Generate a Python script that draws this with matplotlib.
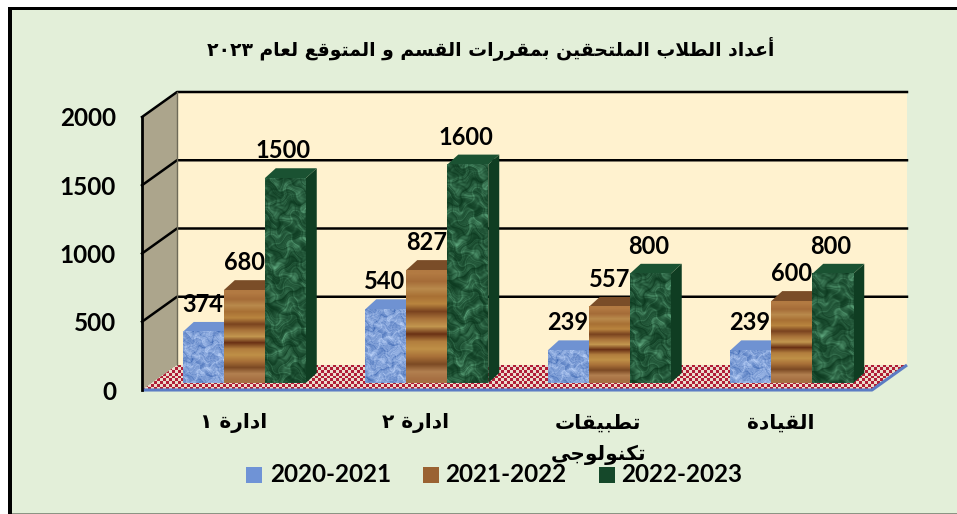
import numpy as np
import matplotlib
matplotlib.use("Agg")
import matplotlib.pyplot as plt
from matplotlib.patches import Rectangle, Polygon

## data
categories = ["ادارة ١", "ادارة ٢", "تطبيقات\nتكنولوجي", "القيادة"]
seasons = ["2020-2021", "2021-2022", "2022-2023"]
v2021 = [374, 540, 239, 239]
v2122 = [680, 827, 557, 600]
v2223 = [1500, 1600, 800, 800]
yticks = [0, 500, 1000, 1500, 2000]
title = "أعداد الطلاب الملتحقين بمقررات القسم و المتوقع لعام ٢٠٢٣"

W, H = 957, 514
BG = "#e3efd9"

## arabic shaping, matplotlib does not join letters itself
RIGHT = {"ا": (0xFE8D, 0xFE8E), "أ": (0xFE83, 0xFE84), "د": (0xFEA9, 0xFEAA),
         "ر": (0xFEAD, 0xFEAE), "و": (0xFEED, 0xFEEE), "ة": (0xFE93, 0xFE94)}
DUAL = {"ب": 0xFE8F, "ت": 0xFE95, "ج": 0xFE9D, "ح": 0xFEA1, "س": 0xFEB1, "ط": 0xFEC1,
        "ع": 0xFEC9, "ف": 0xFED1, "ق": 0xFED5, "ك": 0xFED9, "ل": 0xFEDD, "م": 0xFEE1,
        "ن": 0xFEE5, "ي": 0xFEF1}

def shape_word(w):
    if w[0] in "٠١٢٣٤٥٦٧٨٩":
        return w
    out = []
    i = 0
    prev_joins = False
    while i < len(w):
        c = w[i]
        if c == "ل" and i + 1 < len(w) and w[i + 1] == "ا":
            out.append(chr(0xFEFC if prev_joins else 0xFEFB))
            prev_joins = False
            i += 2
            continue
        nxt = i + 1 < len(w)
        if c in RIGHT:
            out.append(chr(RIGHT[c][1 if prev_joins else 0]))
            prev_joins = False
        else:
            base = DUAL[c]
            if prev_joins:
                out.append(chr(base + (3 if nxt else 1)))
            else:
                out.append(chr(base + (2 if nxt else 0)))
            prev_joins = nxt
        i += 1
    return "".join(out[::-1])

def shape(s):
    return " ".join(shape_word(w) for w in s.split(" ")[::-1])

## textures
def mottled(nx, ny, scale):
    X, Y = np.meshgrid(np.arange(nx) * scale, np.arange(ny) * scale)
    wx = X + 2.3 * np.sin(Y * 0.37 + 1.1) + 1.4 * np.sin(Y * 0.83 + X * 0.29)
    wy = Y + 2.1 * np.cos(X * 0.41 + 0.3) + 1.2 * np.sin(X * 0.77 - Y * 0.23)
    n = 0 * X
    for f, a, p in [(0.31, 1.0, 0.2), (0.53, 0.8, 1.7), (0.97, 0.6, 2.9), (1.61, 0.45, 4.1), (2.39, 0.3, 0.9)]:
        n = n + a * np.sin(wx * f + p) * np.cos(wy * f * 1.27 + p * 1.9)
    n = (n - n.min()) / (n.max() - n.min())
    return n

def blend(t, c0, c1):
    c0 = np.array(matplotlib.colors.to_rgb(c0))
    c1 = np.array(matplotlib.colors.to_rgb(c1))
    return c0 + (c1 - c0) * t[..., None]

def tex_blue():
    return blend(mottled(41, 300, 0.9) ** 0.9, "#3f69b4", "#bcd2f8")

def tex_wood():
    bands = ["#b27a42", "#a56c38", "#b98a4c", "#a87034", "#b9853f", "#7a431f", "#a9733a",
             "#c2964f", "#6a3115", "#b27e3e", "#bf9047", "#a87038", "#7c4a24", "#b28050", "#a66f42"]
    rgb = np.array([matplotlib.colors.to_rgb(c) for c in bands])
    return rgb[:, None, :].repeat(4, axis=1)

def tex_green():
    return blend(mottled(41, 300, 0.55) ** 1.9, "#0d3a20", "#5da57c")

def tex_floor():
    n, m = 256, 9
    X, Y = np.meshgrid(np.arange(n), np.arange(m))
    return blend(((X + Y) % 2).astype(float), "#b11d36", "#ecdccb")

fig = plt.figure(figsize=(W / 100, H / 100), dpi=100, facecolor=BG)

# frame lines of the slide
fig.add_artist(Rectangle((0, 0), 8 / W, 1, transform=fig.transFigure, color="white", lw=0))
fig.add_artist(Rectangle((0, 1 - 7 / H), 1, 7 / H, transform=fig.transFigure, color="white", lw=0))
fig.add_artist(Rectangle((8 / W, 1 - 9.5 / H), 1, 2.5 / H, transform=fig.transFigure, color="black", lw=0))
fig.add_artist(Rectangle((8 / W, 0), 4 / W, 1 - 7 / H, transform=fig.transFigure, color="black", lw=0))
fig.add_artist(Rectangle((12 / W, 0), 1, 1.5 / H, transform=fig.transFigure, color="#8c9484", lw=0))

# axes = front plane of the 3d box
x0, x1, ytop, ybot = 142, 872, 117, 390
ax = fig.add_axes([x0 / W, 1 - ybot / H, (x1 - x0) / W, (ybot - ytop) / H])
ax.set_xlim(-0.5, 3.5)
ax.set_ylim(0, 2000)
ax.axis("off")

px = 4 / (x1 - x0)     # data units per pixel
py = 2000 / (ybot - ytop)
dx, dy = 35 * px, 25 * py
xl, xr = -0.5, 3.5
top = 2000

def face(pts, **kw):
    p = Polygon(pts, closed=True, clip_on=False, **kw)
    ax.add_patch(p)
    return p

# back wall, side wall, floor
face([(xl + dx, dy), (xr + dx, dy), (xr + dx, top + dy), (xl + dx, top + dy)], fc="#fff2cf", ec="none", zorder=1)
face([(xl, 0), (xl + dx, dy), (xl + dx, top + dy), (xl, top)], fc="#aca58c", ec="none", zorder=1)
floor = face([(xl, 0), (xr, 0), (xr + dx, dy), (xl + dx, dy)], fc="none", ec="none", zorder=2)
floor_im = ax.imshow(tex_floor(), extent=(xl, xr + dx, 0, dy), aspect="auto", zorder=2, interpolation="nearest")
floor_im.set_clip_box(fig.bbox)
floor_im.set_clip_path(floor)
ax.plot([xl, xr, xr + dx], [0, 0, dy], color="#5b7cc4", lw=2.2, clip_on=False, zorder=3, solid_capstyle="butt")

# gridlines, wall part and back part
for t in yticks[1:]:
    ax.plot([xl, xl + dx, xr + dx], [t, t + dy, t + dy], color="black", lw=1.8, clip_on=False, zorder=3)
ax.plot([xl, xl], [0, top], color="black", lw=2, clip_on=False, zorder=3)
ax.plot([xl + dx, xl + dx], [0 + dy, top + dy], color="#6e6a58", lw=1, clip_on=False, zorder=3)

# bars
groups = [v2021, v2122, v2223]
textures = [tex_blue(), tex_wood(), tex_green()]
side_col = ["#3f5f9c", "#6a3d1c", "#0f3d22"]
top_col = ["#6f92d2", "#7a4d28", "#1a5232"]
crop = [True, False, True]
label_dx = [4, 5, 3]
bw = 41 * px
off_x, off_y = 11 * px, 7 * py
bx, by = 11 * px, 10 * py
for k, vals in enumerate(groups):
    xs = np.arange(len(vals)) + (k - 1) * bw + off_x
    bars = ax.bar(xs, vals, bw, bottom=off_y, color="none", zorder=5 + 2 * k)
    for i, (b, v) in enumerate(zip(bars, vals)):
        l, r = b.get_x(), b.get_x() + b.get_width()
        b0, b1 = b.get_y(), b.get_y() + b.get_height()
        face([(r, b0), (r + bx, b0 + by), (r + bx, b1 + by), (r, b1)], fc=side_col[k], ec="none", zorder=4 + 2 * k)
        face([(l, b1), (r, b1), (r + bx, b1 + by), (l + bx, b1 + by)], fc=top_col[k], ec="none", zorder=4 + 2 * k)
        img = textures[k]
        if crop[k]:
            start = i * 9
            img = img[start:start + int(v / py) + 1]
        ax.imshow(img, extent=(l, r, b0, b1), aspect="auto", zorder=5 + 2 * k, interpolation="bilinear")
        ax.text(l - 5 * px + bw / 2 + label_dx[k] * px, b1 + by + 6 * py, str(v), ha="center", va="bottom",
                family="Lato", weight="bold", fontsize=17, color="black", zorder=12)
ax.set_xlim(-0.5, 3.5)
ax.set_ylim(0, 2000)

# y labels
for t in yticks:
    ax.text(xl - 26 * px, t - 2 * py, str(t), ha="right", va="center", family="Lato", weight="bold", fontsize=17.5, color="black", clip_on=False)

# category labels
for i, c in enumerate(categories):
    lines = [shape(p) for p in c.split("\n")]
    ax.text(i, -33 * py, lines[0], ha="center", va="center", family="DejaVu Sans", weight="bold", fontsize=14.5, clip_on=False, zorder=20)
    if len(lines) > 1:
        ax.text(i, -65 * py, lines[1], ha="center", va="center", family="DejaVu Sans", weight="bold", fontsize=14.5, clip_on=False, zorder=20)

# legend
leg_x = [246, 423, 599]
leg_gap = [24, 22, 22]
leg_col = ["#6f93d6", "#9a6232", "#15482a"]
for lx, gap, s, c in zip(leg_x, leg_gap, seasons, leg_col):
    fig.add_artist(Rectangle((lx / W, 1 - 483 / H), 16 / W, 16 / H, transform=fig.transFigure, color=c, lw=0))
    fig.text((lx + gap) / W, 1 - 475 / H, s, ha="left", va="center", family="Lato", weight="bold", fontsize=17.5)

fig.text(491 / W, 1 - 49 / H, shape(title), ha="center", va="center", family="DejaVu Sans", weight="bold", fontsize=13.5)

fig.savefig("out.png", dpi=100, facecolor=BG)
